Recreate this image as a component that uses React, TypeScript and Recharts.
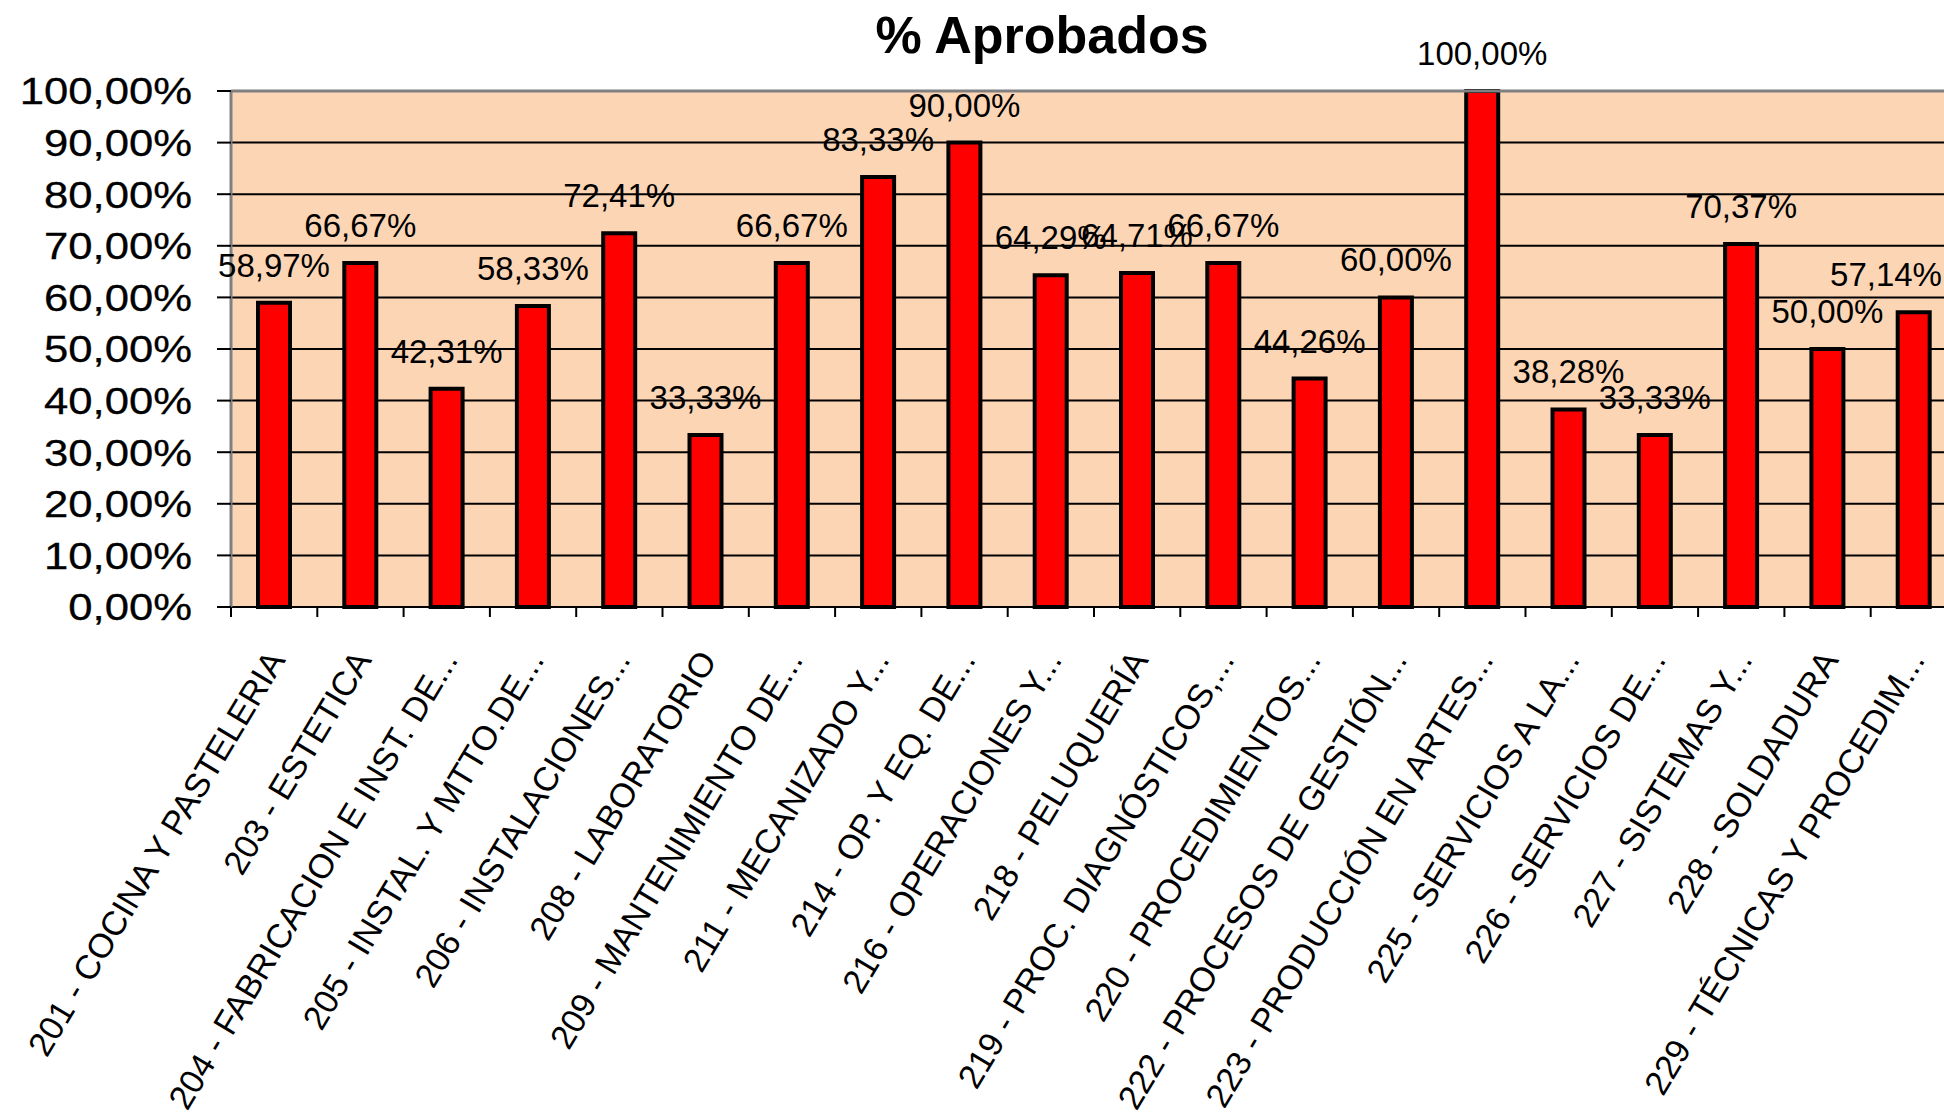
import React from "react";
import {
  Bar,
  BarChart,
  CartesianGrid,
  LabelList,
  ReferenceLine,
  XAxis,
  YAxis
} from "recharts";

const categories = [
  "201 - COCINA Y PASTELERIA",
  "203 - ESTETICA",
  "204 - FABRICACION E INST. DE...",
  "205 - INSTAL. Y MTTO.DE...",
  "206 - INSTALACIONES...",
  "208 - LABORATORIO",
  "209 - MANTENIMIENTO DE...",
  "211 - MECANIZADO Y...",
  "214 - OP. Y EQ. DE...",
  "216 - OPERACIONES Y...",
  "218 - PELUQUERÍA",
  "219 - PROC. DIAGNÓSTICOS,...",
  "220 - PROCEDIMIENTOS...",
  "222 - PROCESOS DE GESTIÓN...",
  "223 - PRODUCCIÓN EN ARTES...",
  "225 - SERVICIOS A LA...",
  "226 - SERVICIOS DE...",
  "227 - SISTEMAS Y...",
  "228 - SOLDADURA",
  "229 - TÉCNICAS Y PROCEDIM..."
];

const aprobados = [
  58.97, 66.67, 42.31, 58.33, 72.41, 33.33, 66.67, 83.33, 90.0, 64.29,
  64.71, 66.67, 44.26, 60.0, 100.0, 38.28, 33.33, 70.37, 50.0, 57.14
];

const yTicks = [0, 10, 20, 30, 40, 50, 60, 70, 80, 90, 100];

const data = categories.map((name, i) => ({ name, value: aprobados[i] }));

const FONT = "'Liberation Sans', Arial, sans-serif";
const VIEW_W = 1944;
const fmt = (v: number) => v.toFixed(2).replace(".", ",") + "%";

const YTick = (props: any) => {
  const { x, y, payload } = props;
  return (
    <g transform={`translate(${x},${y})`}>
      <text
        transform="scale(1.18,1)"
        textAnchor="end"
        dy="0.36em"
        fontSize={37}
        fontFamily={FONT}
        fill="#000"
        stroke="#000"
        strokeWidth={0.3}
      >
        {fmt(payload.value)}
      </text>
    </g>
  );
};

// category labels hang from the tick, plus a tick mark at each category boundary
const XTick = (props: any) => {
  const { x, y, payload } = props;
  const half = payload.offset ?? 43.15;
  const tx = x + 12;
  const ty = y + 53;
  return (
    <g>
      <line x1={x - half} x2={x - half} y1={y} y2={y + 10} stroke="#000" strokeWidth={2} />
      <text
        x={tx}
        y={ty}
        transform={`rotate(-59, ${tx}, ${ty})`}
        textAnchor="end"
        fontSize={34}
        fontFamily={FONT}
        fill="#000"
      >
        {payload.value}
      </text>
    </g>
  );
};

// value labels above bars, pushed left so they stay inside the visible area
const BarLabel = (props: any) => {
  const { x, y, width, value } = props;
  const cx = Math.min(x + width / 2, VIEW_W - 58);
  return (
    <text
      x={cx}
      y={y - 26}
      textAnchor="middle"
      fontSize={33}
      fontFamily={FONT}
      fill="#000"
    >
      {fmt(value)}
    </text>
  );
};

export default function App() {
  return (
    <div
      style={{
        position: "absolute",
        left: 0,
        top: 0,
        width: VIEW_W,
        height: 1117,
        overflow: "hidden",
        background: "#fff"
      }}
    >
      <div
        style={{
          position: "absolute",
          left: 742,
          top: 9,
          width: 600,
          textAlign: "center",
          fontFamily: FONT,
          fontWeight: "bold",
          fontSize: 52,
          lineHeight: "52px",
          color: "#000"
        }}
      >
        % Aprobados
      </div>
      <BarChart
        width={1957}
        height={1117}
        data={data}
        margin={{ top: 91, right: 0, bottom: 500, left: 131 }}
      >
        <CartesianGrid vertical={false} stroke="#000" strokeWidth={2} fill="#FCD5B5" fillOpacity={1} />
        <XAxis
          dataKey="name"
          interval={0}
          tickLine={false}
          tickSize={0}
          tickMargin={0}
          axisLine={{ stroke: "#000", strokeWidth: 2 }}
          tick={<XTick />}
          height={10}
        />
        <YAxis
          width={100}
          domain={[0, 100]}
          ticks={yTicks}
          interval={0}
          tickSize={14}
          tickMargin={25}
          tickLine={{ stroke: "#000", strokeWidth: 2 }}
          axisLine={{ stroke: "#808080", strokeWidth: 3 }}
          tick={<YTick />}
        />
        <ReferenceLine y={100} stroke="#808080" strokeWidth={3} />
        <Bar dataKey="value" fill="#FF0000" stroke="#000" strokeWidth={4} barSize={32} isAnimationActive={false}>
          <LabelList dataKey="value" content={<BarLabel />} />
        </Bar>
      </BarChart>
    </div>
  );
}
